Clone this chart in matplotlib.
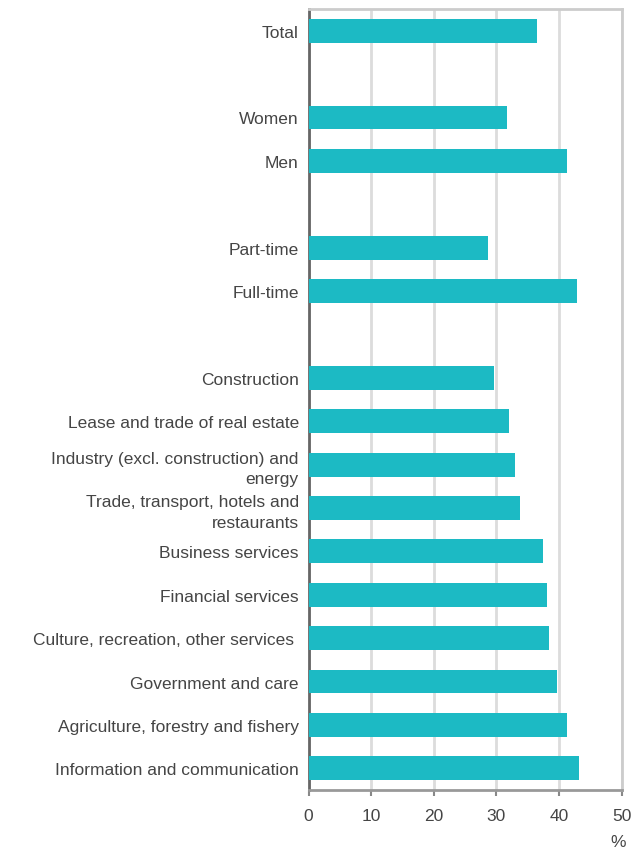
import matplotlib
matplotlib.use("Agg")
import matplotlib.pyplot as plt

categories = [
    "Total", "", "Women", "Men", "", "Part-time", "Full-time", "",
    "Construction", "Lease and trade of real estate",
    "Industry (excl. construction) and\nenergy",
    "Trade, transport, hotels and\nrestaurants",
    "Business services", "Financial services",
    "Culture, recreation, other services ",
    "Government and care", "Agriculture, forestry and fishery",
    "Information and communication",
]
values = [36.5, None, 31.7, 41.2, None, 28.6, 42.9, None,
          29.6, 32.0, 32.9, 33.8, 37.5, 38.0, 38.4, 39.7, 41.2, 43.2]
xticks = [0, 10, 20, 30, 40, 50]

plt.rcParams['font.family'] = ['Liberation Sans', 'DejaVu Sans']

fig = plt.figure(figsize=(6.32, 8.53), dpi=100)
W, H = 632, 853
ax = fig.add_axes([308.5 / W, 1 - 791 / H, (621.7 - 308.5) / W, (791 - 10) / H])

pos = list(range(len(categories)))
bar_pos = [p for p, v in zip(pos, values) if v is not None]
bar_val = [v for v in values if v is not None]
ax.barh(bar_pos, bar_val, height=0.55, color="#1cbac4", zorder=3)

ax.set_ylim(len(categories) - 0.5, -0.5)
ax.set_xlim(0, 50)
ax.set_xticks(xticks)
ax.set_xticklabels([str(t) for t in xticks])
ax.set_yticks(pos)
ax.set_yticklabels(categories, fontsize=12.5, color="#454545", linespacing=1.45)
ax.tick_params(axis='y', length=0, pad=7)
ax.tick_params(axis='x', length=4, width=1.5, color="#888888", labelsize=12.5,
               labelcolor="#454545", pad=9)

ax.grid(axis='x', color="#dcdcdc", linewidth=2, zorder=0)
ax.set_axisbelow(True)

for s in ['top', 'right']:
    ax.spines[s].set_color("#cccccc")
    ax.spines[s].set_linewidth(2)
ax.spines['left'].set_color("#666666")
ax.spines['left'].set_linewidth(2)
ax.spines['bottom'].set_color("#999999")
ax.spines['bottom'].set_linewidth(2)

fig.text(618 / W, 1 - 843 / H, "%", fontsize=12.5, color="#454545",
         ha='center', va='center')

fig.savefig("out.png", dpi=100)
